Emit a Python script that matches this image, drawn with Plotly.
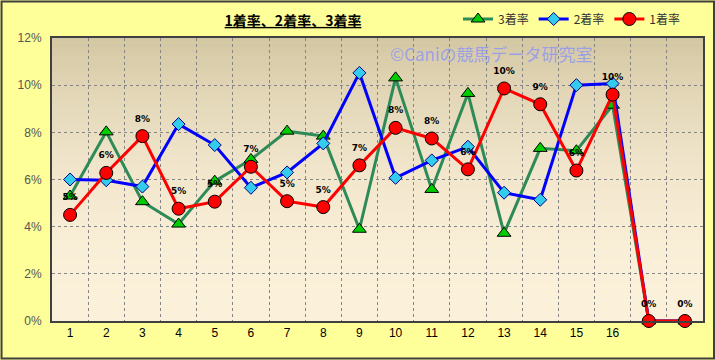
import plotly.graph_objects as go

# ---- data ----
positions = list(range(1, 19))
x_tick_labels = [str(i) for i in range(1, 17)]
rate1 = [4.5, 6.28, 7.84, 4.76, 5.06, 6.54, 5.08, 4.83, 6.6, 8.19, 7.74, 6.43, 9.86, 9.19, 6.38, 9.6, 0, 0]
rate2 = [6.0, 5.97, 5.7, 8.35, 7.46, 5.65, 6.3, 7.53, 10.52, 6.07, 6.81, 7.39, 5.44, 5.14, 10.0, 10.07, 0, 0]
rate3 = [5.3, 8.02, 5.06, 4.11, 5.93, 6.85, 8.05, 7.84, 3.89, 10.31, 5.58, 9.65, 3.72, 7.32, 7.22, 9.15, 0, 0]
y_ticks = [0, 2, 4, 6, 8, 10, 12]

JP = "Noto Sans CJK JP"

fig = go.Figure()

fig.add_trace(go.Scatter(
    x=positions, y=rate3, name="3着率", mode="lines+markers",
    line=dict(color="#2E8B57", width=3),
    marker=dict(symbol="triangle-up", size=12, color="#00CC00", line=dict(color="#000000", width=1)),
    cliponaxis=False,
))
fig.add_trace(go.Scatter(
    x=positions, y=rate2, name="2着率", mode="lines+markers",
    line=dict(color="#0000FF", width=3),
    marker=dict(symbol="diamond", size=10, color="#33CCEE", line=dict(color="#000080", width=1)),
    cliponaxis=False,
))
fig.add_trace(go.Scatter(
    x=positions, y=rate1, name="1着率", mode="lines+markers",
    line=dict(color="#FF0000", width=3),
    marker=dict(symbol="circle", size=13, color="#FF0000", line=dict(color="#000000", width=1)),
    cliponaxis=False,
))
# data labels for 1着率 (same data, invisible larger markers to lift the text)
labels1 = [f"{int(v + 0.5)}%" for v in rate1]
fig.add_trace(go.Scatter(
    x=positions, y=rate1, mode="markers+text", showlegend=False, hoverinfo="skip",
    marker=dict(size=18, opacity=0),
    text=labels1, textposition="top center",
    textfont=dict(family="DejaVu Sans", size=9, color="#000000", weight="bold"),
    cliponaxis=False,
))

# gradient plot background
def mix(c1, c2, t):
    return "#%02x%02x%02x" % tuple(int(round(a + (b - a) * t)) for a, b in zip(c1, c2))

bottom_c = (0xFB, 0xF0, 0xD9)
top_c = (0xD3, 0xC6, 0xA2)
n = 60
shapes = []
for i in range(n):
    t = (i + 0.5) / n
    shapes.append(dict(type="rect", xref="paper", yref="paper", x0=0, x1=1,
                       y0=i / n, y1=(i + 1) / n + 0.002, line=dict(width=0),
                       fillcolor=mix(bottom_c, top_c, t ** 2.2), layer="below"))
# outer border
shapes.append(dict(type="rect", xref="paper", yref="paper",
                   x0=-0.0775, x1=1.0169, y0=-0.1325, y1=1.129,
                   line=dict(color="#404040", width=2), fillcolor="rgba(0,0,0,0)", layer="above"))

fig.update_layout(
    width=715, height=360,
    margin=dict(l=52, r=12, t=38, b=39, autoexpand=False),
    paper_bgcolor="#FFFF99",
    plot_bgcolor="rgba(0,0,0,0)",
    shapes=shapes,
    title=dict(text="<b><u>1着率、2着率、3着率</u></b>", x=293 / 715, xanchor="center",
               y=1 - 21 / 360, yanchor="middle", xref="container", yref="container",
               font=dict(family=JP, size=14, color="#000000")),
    legend=dict(orientation="h", xref="container", yref="container",
                x=458 / 715, xanchor="left", y=1 - 19 / 360, yanchor="middle",
                bgcolor="rgba(0,0,0,0)", font=dict(family=JP, size=12, color="#333333"),
                itemwidth=30, traceorder="normal"),
    showlegend=True,
    xaxis=dict(range=[0.5, 18.5], tickmode="array", tickvals=positions[:16], ticktext=x_tick_labels,
               showgrid=False, zeroline=False, showline=True, linecolor="#404040", linewidth=2,
               mirror=True, ticks="", tickfont=dict(family="Liberation Sans", size=12, color="#000000"),
               minor=dict(tickmode="array", tickvals=[p + 0.5 for p in positions[:-1]],
                          showgrid=True, gridcolor="#858585", griddash="dot", gridwidth=1, ticks="")),
    yaxis=dict(range=[0, 12], tickmode="array", tickvals=y_ticks, ticktext=[f"{v}%" for v in y_ticks],
               showgrid=True, gridcolor="#858585", griddash="dot", gridwidth=1,
               zeroline=False, showline=True, linecolor="#404040", linewidth=2, mirror=True,
               ticks="", ticklabelstandoff=6,
               tickfont=dict(family="Liberation Sans", size=12, color="#555555")),
    annotations=[dict(text="©Caniの競馬データ研究室", xref="paper", yref="paper",
                      x=(388 - 52) / 651, y=(321 - 53) / 283, xanchor="left", yanchor="middle",
                      showarrow=False, font=dict(family=JP, size=17, color="rgba(135,145,250,0.75)"))],
)

fig.write_html("out.html")
